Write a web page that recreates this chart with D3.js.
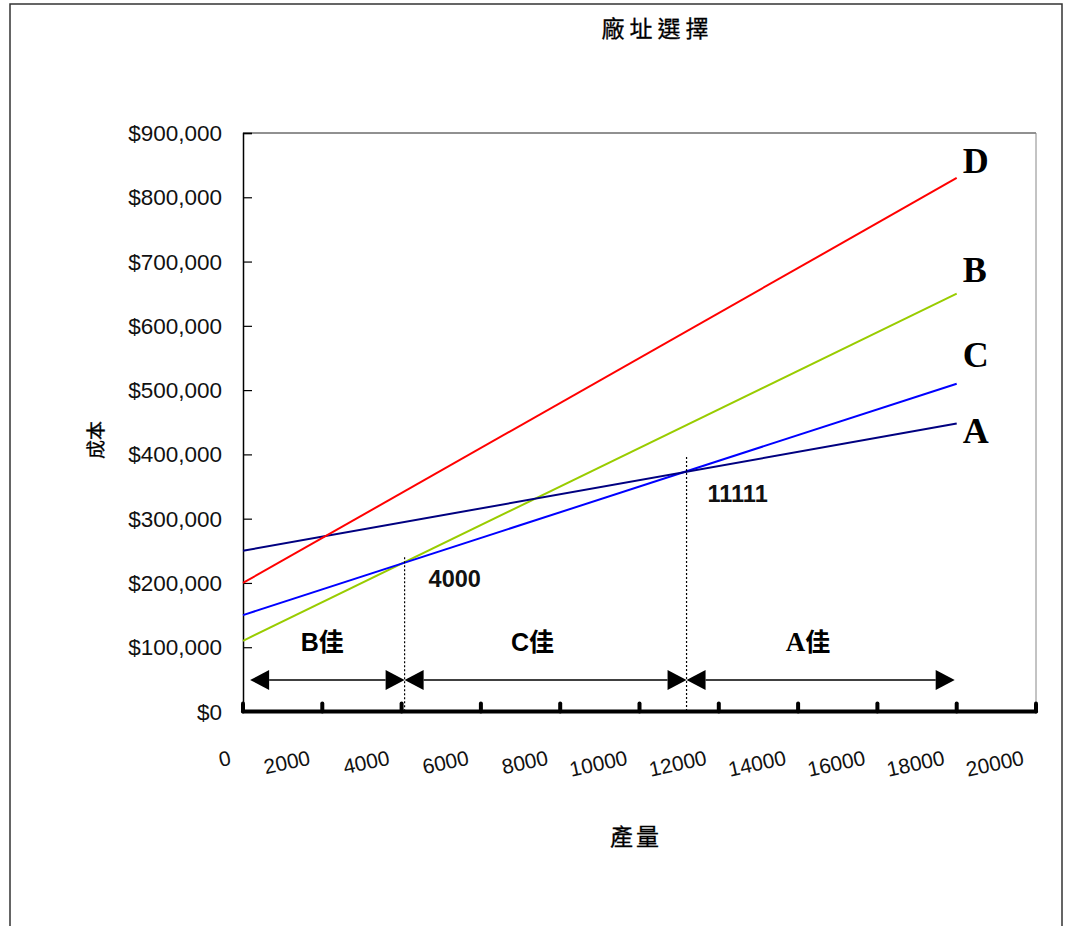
<!DOCTYPE html>
<html><head><meta charset="utf-8">
<script src="https://cdn.jsdelivr.net/npm/d3@7"></script>
<style>
html,body{margin:0;padding:0;background:#fff;}
svg{display:block;}
</style></head>
<body>
<script>
// ---- data ----
const xTickValues = [0, 2000, 4000, 6000, 8000, 10000, 12000, 14000, 16000, 18000, 20000];
const yTickValues = [0, 100000, 200000, 300000, 400000, 500000, 600000, 700000, 800000, 900000];
const seriesNames = ["A", "B", "C", "D"];
const outputX = [0, 18000];
const costA = [250000, 448000];
const costB = [110000, 650000];
const costC = [150000, 510000];
const costD = [200000, 830000];
const breakEvenX = [4000, 11111];
const breakEvenCost = [230000, 372222];
const breakEvenLabels = ["4000", "11111"];
const dottedTopCost = [240000, 396000];
const regionNames = ["B", "C", "A"];
const regionStart = [180, 4000, 11111];
const regionEnd = [4000, 11111, 17950];
const regionLabelX = [2000, 7300, 14250];
const titleText = "廠址選擇";
const xTitle = "產量";
const yTitle = "成本";

// ---- drawing ----
const W = 1065, H = 926;
const svg = d3.select("body").append("svg").attr("width", W).attr("height", H);
const latin = "'Liberation Sans', Arial, sans-serif";
const cjk = "'Noto Sans CJK TC', 'Noto Sans CJK SC', sans-serif";
const serif = "'Liberation Serif', 'Times New Roman', serif";

// outer border
svg.append("path").attr("d", `M10,${H} V4 H1062 V${H}`)
  .attr("fill", "none").attr("stroke", "#333").attr("stroke-width", 1.5);

const x = d3.scaleLinear().domain([0, 20000]).range([243, 1036]);
const y = d3.scaleLinear().domain([0, 900000]).range([711.5, 133]);

// plot area border (top/right)
svg.append("line").attr("x1", x(0)).attr("x2", x(20000)).attr("y1", y(900000)).attr("y2", y(900000))
  .attr("stroke", "#222").attr("stroke-width", 1);
svg.append("line").attr("x1", x(20000)).attr("x2", x(20000)).attr("y1", y(900000)).attr("y2", y(0))
  .attr("stroke", "#888").attr("stroke-width", 1);

// title
svg.append("text").attr("x", 655).attr("y", 37).attr("text-anchor", "middle")
  .attr("font-family", cjk).attr("font-size", 23).attr("letter-spacing", 5)
  .attr("stroke", "#000").attr("stroke-width", 0.3)
  .attr("dx", 2.5).text(titleText);

// y axis
const yAxis = d3.axisRight(y).tickValues(yTickValues).tickSize(9).tickFormat("");
const yg = svg.append("g").attr("transform", `translate(${x(0)},0)`).call(yAxis);
yg.select(".domain").attr("stroke", "#000").attr("stroke-width", 1.5);
yg.selectAll(".tick line").attr("stroke", "#000").attr("stroke-width", 1.2);
yg.selectAll(".tick").filter(d => d === 0).remove();

svg.append("g").selectAll("text").data(yTickValues).join("text")
  .attr("x", 222).attr("y", d => y(d)).attr("dy", "0.36em")
  .attr("text-anchor", "end").attr("font-family", latin).attr("font-size", 22.5)
  .attr("fill", "#111").text(d => d3.format("$,.0f")(d));

// x axis (thick)
const xg = svg.append("g");
xg.append("line").attr("x1", x(0)).attr("x2", x(20000)).attr("y1", y(0)).attr("y2", y(0))
  .attr("stroke", "#000").attr("stroke-width", 4).attr("stroke-linecap", "round");
xg.selectAll("line.tk").data(xTickValues).join("line").attr("class", "tk")
  .attr("x1", d => x(d)).attr("x2", d => x(d)).attr("y1", y(0) - 8).attr("y2", y(0))
  .attr("stroke", "#000").attr("stroke-width", 4).attr("stroke-linecap", "round");

svg.append("g").selectAll("text").data(xTickValues).join("text")
  .attr("transform", d => `translate(${x(d) - 11},${y(0) + 53}) rotate(-12)`)
  .attr("text-anchor", "end").attr("font-family", latin).attr("font-size", 21)
  .attr("fill", "#111").text(d => String(d));

// axis titles
svg.append("text").attr("x", 636).attr("y", 845).attr("text-anchor", "middle")
  .attr("font-family", cjk).attr("font-size", 23).attr("letter-spacing", 3)
  .attr("stroke", "#000").attr("stroke-width", 0.3)
  .text(xTitle);
svg.append("text").attr("transform", "translate(94,440) rotate(-90)")
  .attr("text-anchor", "middle").attr("dominant-baseline", "central")
  .attr("font-family", cjk).attr("font-size", 19)
  .attr("stroke", "#000").attr("stroke-width", 0.3).text(yTitle);

// series lines
const seriesData = { A: costA, B: costB, C: costC, D: costD };
const seriesColor = { A: "#000080", B: "#99CC00", C: "#0000FF", D: "#FF0000" };
const labelDy = { A: 19, B: -12, C: -17, D: -5 };
const line = d3.line().x(d => x(d[0])).y(d => y(d[1]));
["B", "C", "A", "D"].forEach(name => {
  const pts = outputX.map((v, i) => [v, seriesData[name][i]]);
  svg.append("path").datum(pts).attr("d", line)
    .attr("fill", "none").attr("stroke", seriesColor[name]).attr("stroke-width", 2);
});
seriesNames.forEach(name => {
  const last = outputX.length - 1;
  svg.append("text").attr("x", x(outputX[last]) + 6)
    .attr("y", y(seriesData[name][last]) + labelDy[name])
    .attr("font-family", serif).attr("font-weight", "bold").attr("font-size", 36)
    .text(name);
});

// dotted break-even lines
breakEvenX.forEach((bx, i) => {
  svg.append("line").attr("x1", x(bx) + 3).attr("x2", x(bx) + 3)
    .attr("y1", y(dottedTopCost[i])).attr("y2", y(0))
    .attr("stroke", "#000").attr("stroke-width", 1.2).attr("stroke-dasharray", "2,2");
});
const beOff = [[27, 23], [24, 30]];
breakEvenX.forEach((bx, i) => {
  svg.append("text").attr("x", x(bx) + beOff[i][0]).attr("y", y(breakEvenCost[i]) + beOff[i][1])
    .attr("font-family", latin).attr("font-weight", "bold").attr("font-size", 23.5)
    .attr("fill", "#111").text(breakEvenLabels[i]);
});

// region arrows
const arrowY = 680;
const headL = 19, headH = 10;
regionNames.forEach((nm, i) => {
  const a = x(regionStart[i]) + (i === 0 ? 0 : 3), b = x(regionEnd[i]) + (i === 2 ? 0 : 3);
  const g = svg.append("g");
  g.append("line").attr("x1", a + headL).attr("x2", b - headL).attr("y1", arrowY).attr("y2", arrowY)
    .attr("stroke", "#000").attr("stroke-width", 1.5);
  g.append("path").attr("d", `M${a},${arrowY} L${a + headL},${arrowY - headH} L${a + headL},${arrowY + headH} Z`)
    .attr("fill", "#000");
  g.append("path").attr("d", `M${b},${arrowY} L${b - headL},${arrowY - headH} L${b - headL},${arrowY + headH} Z`)
    .attr("fill", "#000");
  const t = svg.append("text").attr("x", x(regionLabelX[i])).attr("y", 651)
    .attr("text-anchor", "middle").attr("font-weight", "bold").attr("font-size", 25);
  if (nm === "A") {
    t.append("tspan").attr("font-family", serif).attr("font-size", 27).text(nm);
  } else {
    t.append("tspan").attr("font-family", latin).text(nm);
  }
  t.append("tspan").attr("font-family", cjk).text("佳");
});
</script>
</body></html>
